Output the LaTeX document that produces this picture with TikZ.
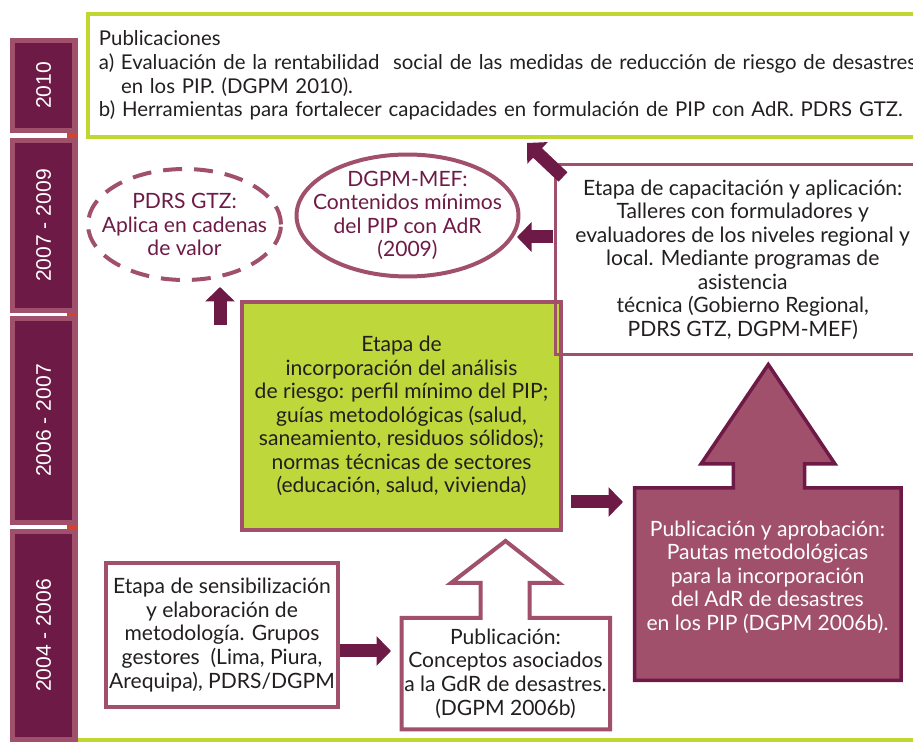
\documentclass[tikz,border=0pt]{standalone}
\usepackage{fontspec}
\usepackage{graphicx}
\setmainfont{Lato}
\newfontfamily\yearfont{Liberation Sans}
\usetikzlibrary{arrows.meta,shapes.geometric}

\definecolor{plum}{HTML}{6E1A46}
\definecolor{mauve}{HTML}{A0506A}
\definecolor{lime}{HTML}{BED73B}
\definecolor{leaf}{HTML}{BFD730}
\definecolor{ink}{HTML}{231F20}
\definecolor{rust}{HTML}{D0452B}

\begin{document}
\begin{tikzpicture}[x=0.02cm,y=-0.02cm,
  txt/.style={font=\fontsize{12}{13.4}\selectfont, text=ink, align=center, inner sep=0pt},
  yearbox/.style={draw=mauve, fill=plum, line width=0.09cm, minimum width=1.25cm, inner sep=0pt,
    text=white, font=\yearfont\fontsize{12}{14}\selectfont},
  frame/.style={txt, draw=mauve, line width=0.08cm, fill=white},
  oval/.style={txt, text=plum, draw=mauve, line width=0.08cm, ellipse, inner xsep=-0.6cm, inner ysep=-0.3cm},
  blockarrow/.style={draw=plum, line width=0.26cm,
    -{Triangle[width=0.58cm,length=0.29cm]}},
]
\useasboundingbox (0,0) rectangle (913,742);
\clip (0,0) rectangle (913,742);

% time line on the left
\draw[rust, line width=0.03cm] (77.5,38) -- (77.5,742);
\foreach \ya/\yb in {133/138, 313/316, 525/529}
  \fill[rust] (67,\ya) rectangle (78,\yb);
\node[yearbox, minimum height=1.81cm] (y1) at (43.5,85.5) {\rotatebox{90}{2010}};
\node[yearbox, minimum height=3.41cm] (y2) at (43.5,225.5) {\rotatebox{90}{2007 - 2009}};
\node[yearbox, minimum height=4.09cm] (y3) at (43.5,420.5) {\rotatebox{90}{2006 - 2007}};
\node[yearbox, minimum height=4.17cm] (y4) at (43.5,635.5) {\rotatebox{90}{2004 - 2006}};

% publications 2010
\node[txt, font=\fontsize{11.6}{13.4}\selectfont, align=left, anchor=north west, draw=leaf, line width=0.08cm,
      text width=20cm, inner xsep=0.22cm, minimum height=2.46cm] (pubs) at (86,12)
  {Publicaciones\\
   a) Evaluación de la rentabilidad\ \ social de las medidas de reducción de riesgo de desastres\\
   \phantom{a) }en los PIP. (DGPM 2010).\\
   b) Herramientas para fortalecer capacidades en formulación de PIP con AdR. PDRS GTZ.};

% bottom rule
\draw[leaf, line width=0.08cm] (78,740) -- (920,740);

% 2007 - 2009
\node[oval, dashed, dash pattern=on 0.38cm off 0.24cm, minimum width=3.86cm, minimum height=2.22cm]
  (gtz) at (184.5,224.5) {PDRS GTZ:\\Aplica en cadenas\\de valor};
\node[oval, minimum width=4.44cm, minimum height=2.44cm]
  (mef) at (407.5,215.5) {DGPM-MEF:\\Contenidos mínimos\\del PIP con AdR\\(2009)};

% 2006 - 2007
\node[txt, draw=mauve, line width=0.08cm, fill=lime, minimum width=6.38cm, minimum height=4.56cm]
  (inc) at (401.5,416)
  {Etapa de\\incorporación del análisis\\de riesgo: perfil mínimo del PIP;\\guías metodológicas (salud,\\saneamiento, residuos sólidos);\\normas técnicas de sectores\\(educación, salud, vivienda)};

\node[txt, draw=mauve, line width=0.07cm, minimum width=7.49cm, minimum height=3.8cm]
  (cap) at (742.75,259.5)
  {Etapa de capacitación y aplicación:\\Talleres con formuladores y\\evaluadores de los niveles regional y\\local. Mediante programas de\\asistencia\\técnica (Gobierno Regional,\\PDRS GTZ, DGPM-MEF)};

% publication and approval, box with a block arrow on top
\draw[fill=mauve, draw=plum, line width=0.07cm, line join=miter]
  (634.7,488) -- (733.3,488) -- (733.3,464) -- (701,464) -- (768.3,364.5) -- (835,464)
  -- (804.7,464) -- (804.7,488) -- (901,488) -- (901,680.5) -- (634.7,680.5) -- cycle;
\node[txt, text=white] (apr) at (767.5,577)
  {Publicación y aprobación:\\Pautas metodológicas\\para la incorporación\\del AdR de desastres\\en los PIP (DGPM 2006b).};

% 2004 - 2006
\node[frame, minimum width=4.66cm, minimum height=2.9cm] (sen) at (222,635)
  {Etapa de sensibilización\\y elaboración de\\metodología. Grupos\\gestores\ \ (Lima, Piura,\\Arequipa), PDRS/DGPM};

\draw[fill=white, draw=mauve, line width=0.08cm, line join=miter]
  (401.5,618) -- (480.5,618) -- (480.5,583) -- (451,583) -- (505.5,541) -- (559,583)
  -- (529.5,583) -- (529.5,618) -- (610,618) -- (610,729.5) -- (401.5,729.5) -- cycle;
\node[txt] (con) at (505.5,673.5)
  {Publicación:\\Conceptos asociados\\a la GdR de desastres.\\(DGPM 2006b)};

% connectors
\coordinate (s1) at (340,651);  \coordinate (s2) at (391,651);
\coordinate (i1) at (571,502);  \coordinate (i2) at (623,502);
\coordinate (u1) at (220,325);  \coordinate (u2) at (220,287);
\coordinate (l1) at (553,237);  \coordinate (l2) at (517,237);
\coordinate (d1) at (563,177);  \coordinate (d2) at (527,143);
\draw[blockarrow] (s1) -- (s2);
\draw[blockarrow] (i1) -- (i2);
\draw[blockarrow] (u1) -- (u2);
\draw[blockarrow] (l1) -- (l2);
\draw[blockarrow] (d1) -- (d2);
\end{tikzpicture}
\end{document}
